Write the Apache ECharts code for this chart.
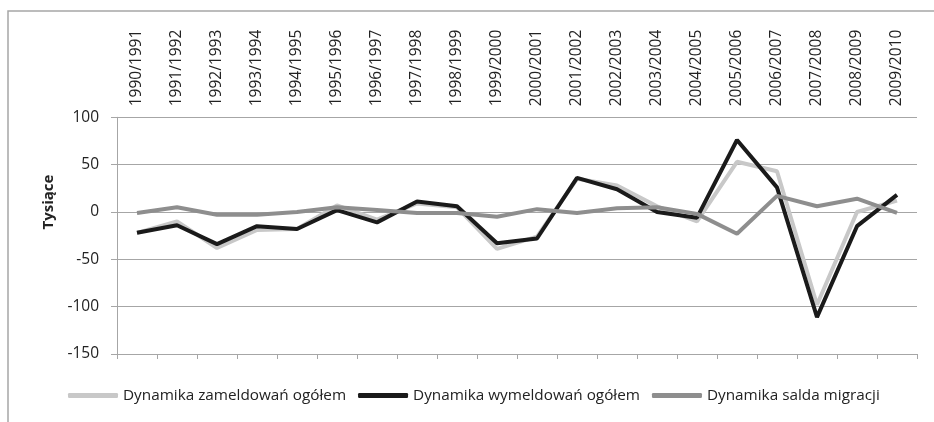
<!DOCTYPE html>
<html><head><meta charset="utf-8">
<script src="https://cdn.jsdelivr.net/npm/echarts@6/dist/echarts.min.js"></script>
<style>html,body{margin:0;padding:0;background:#fff}#c{width:934px;height:422px}</style>
</head><body><div id="c"></div>
<script>
const categories = ['1990/1991','1991/1992','1992/1993','1993/1994','1994/1995','1995/1996','1996/1997','1997/1998','1998/1999','1999/2000','2000/2001','2001/2002','2002/2003','2003/2004','2004/2005','2005/2006','2006/2007','2007/2008','2008/2009','2009/2010'];
const zameldowan = [-22, -10, -38, -19, -18, 7, -8, 9, 5, -39, -26, 35, 28, 6, -10, 53, 43, -98, 0, 12];
const wymeldowan = [-22, -14, -34, -15, -18, 2, -11, 11, 6, -33, -28, 36, 24, 0, -6, 76, 26, -111, -15, 18];
const saldo = [-1, 5, -3, -3, 0, 5, 2, -1, -1, -5, 3, -1, 4, 5, -2, -23, 17, 6, 14, -1];
const yTicks = {min: -150, max: 100, interval: 50};

const font = '"Open Sans", "Liberation Sans", sans-serif';
const chart = echarts.init(document.getElementById('c'));
chart.setOption({
  animation: false,
  backgroundColor: '#fff',
  graphic: [
    {type: 'rect', shape: {x: 8, y: 11, width: 1000, height: 600}, style: {fill: 'none', stroke: '#a6a6a6', lineWidth: 1.5}, z: -1},
    {type: 'text', x: 49, y: 202, rotation: Math.PI / 2, style: {text: 'Tysiące', font: 'bold 15px ' + font, fill: '#222', align: 'center', verticalAlign: 'middle'}}
  ],
  grid: {left: 117, right: 17, top: 117.3, bottom: 68},
  legend: {
    left: 68, top: 388, padding: 0, itemWidth: 50, itemHeight: 5, itemGap: 12,
    icon: 'roundRect',
    textStyle: {fontFamily: font, fontSize: 15.3, color: '#222'},
    data: ['Dynamika zameldowań ogółem', 'Dynamika wymeldowań ogółem', 'Dynamika salda migracji']
  },
  xAxis: [
    {type: 'category', data: categories, position: 'top', boundaryGap: true,
     axisLine: {show: false}, axisTick: {show: false},
     axisLabel: {rotate: 90, margin: 11, interval: 0, fontFamily: font, fontSize: 15.5, color: '#222'}},
    {type: 'category', data: categories, position: 'bottom', boundaryGap: true,
     axisLine: {show: true, onZero: true, lineStyle: {color: '#a6a6a6', width: 1}},
     axisTick: {show: true, length: 5, interval: 0, lineStyle: {color: '#a6a6a6'}},
     axisLabel: {show: false}}
  ],
  yAxis: {
    type: 'value', min: yTicks.min, max: yTicks.max, interval: yTicks.interval,
    axisLine: {show: true, onZero: false, lineStyle: {color: '#a6a6a6'}},
    axisTick: {show: true, length: 6, lineStyle: {color: '#a6a6a6'}},
    splitLine: {show: true, lineStyle: {color: '#a6a6a6', width: 1}},
    axisLabel: {margin: 18, fontFamily: font, fontSize: 15.5, color: '#222'}
  },
  series: [
    {name: 'Dynamika zameldowań ogółem', type: 'line', data: zameldowan, xAxisIndex: 1, showSymbol: false, symbol: 'none',
     lineStyle: {color: '#c8c8c8', width: 4}, itemStyle: {color: '#c8c8c8'}, z: 2},
    {name: 'Dynamika wymeldowań ogółem', type: 'line', data: wymeldowan, xAxisIndex: 1, showSymbol: false, symbol: 'none',
     lineStyle: {color: '#1a1a1a', width: 4}, itemStyle: {color: '#1a1a1a'}, z: 3},
    {name: 'Dynamika salda migracji', type: 'line', data: saldo, xAxisIndex: 1, showSymbol: false, symbol: 'none',
     lineStyle: {color: '#8e8e8e', width: 4}, itemStyle: {color: '#8e8e8e'}, z: 4}
  ]
});
</script></body></html>
